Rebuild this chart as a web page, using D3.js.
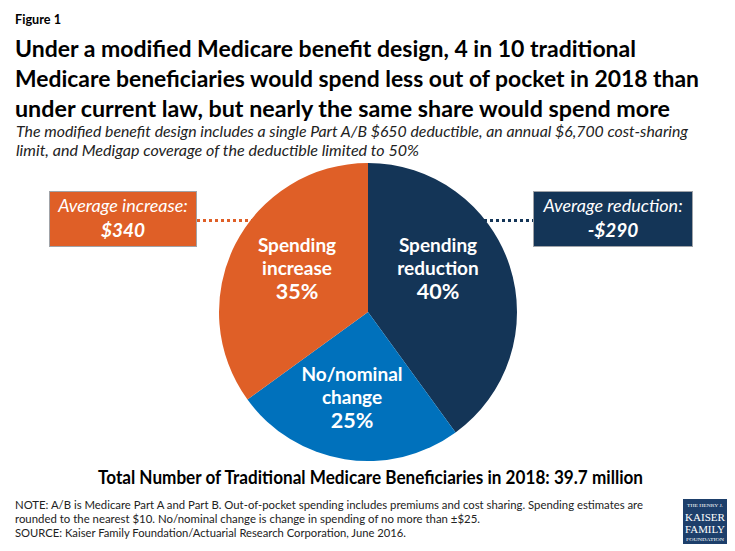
<!DOCTYPE html>
<html>
<head>
<meta charset="utf-8">
<script src="https://cdn.jsdelivr.net/npm/d3@7"></script>
<style>
html, body { margin: 0; padding: 0; background: #fff; }
text { font-family: Lato, "Open Sans", sans-serif; }
</style>
</head>
<body>
<div id="svg"></div>
<script>
// data
var categories = ["Spending reduction", "No/nominal change", "Spending increase"];
var shares = [40, 25, 35];
var slice_labels = [["Spending", "reduction"], ["No/nominal", "change"], ["Spending", "increase"]];
var slice_colors = ["#143557", "#0071bc", "#df5f27"];
var callout_titles = ["Average reduction:", "Average increase:"];
var callout_values = ["-$290", "$340"];

var title_lines = [
    "Under a modified Medicare benefit design, 4 in 10 traditional",
    "Medicare beneficiaries would spend less out of pocket in 2018 than",
    "under current law, but nearly the same share would spend more"
];
var sub_lines = [
    "The modified benefit design includes a single Part A/B $650 deductible, an annual $6,700 cost-sharing",
    "limit, and Medigap coverage of the deductible limited to 50%"
];
var note_lines = [
    "NOTE: A/B is Medicare Part A and Part B. Out-of-pocket spending includes premiums and cost sharing. Spending estimates are",
    "rounded to the nearest $10. No/nominal change is change in spending of no more than \u00b1$25.",
    "SOURCE: Kaiser Family Foundation/Actuarial Research Corporation, June 2016."
];
var total_label = "Total Number of Traditional Medicare Beneficiaries in 2018: 39.7 million";

var svg = d3.select("#svg").append("svg")
    .attr("width", 735)
    .attr("height", 551)
    .style("display", "block");

// puts lines of text, squeezed to the measured widths of the reference
function text_lines(lines, x, ys, widths, size, weight, style, fill) {
    svg.append("g").selectAll("text")
        .data(lines)
        .enter().append("text")
        .attr("x", x)
        .attr("y", function(d, i) { return ys[i]; })
        .attr("textLength", function(d, i) { return widths[i]; })
        .attr("lengthAdjust", "spacingAndGlyphs")
        .attr("font-size", size)
        .attr("font-weight", weight)
        .attr("font-style", style)
        .attr("fill", fill)
        .text(function(d) { return d; });
}

text_lines(["Figure 1"], 15, [24], [46], 12.5, 700, "normal", "#000");
text_lines(title_lines, 15, [57, 87, 116.5], [621, 684, 655], 23.5, 700, "normal", "#000");
text_lines(sub_lines, 16, [137, 156], [672, 403], 15, 400, "italic", "#222");
text_lines([total_label], 98, [484], [545], 18, 700, "normal", "#000");
text_lines(note_lines, 15, [508.5, 522.5, 537], [628, 465, 391], 11.6, 400, "normal", "#222");

// connectors and boxes
var callouts = svg.append("g");

function callout(i, x0, x1, line_x0, line_x1, color) {
    callouts.append("line")
        .attr("x1", line_x0)
        .attr("x2", line_x1)
        .attr("y1", 220.5)
        .attr("y2", 220.5)
        .attr("stroke", color)
        .attr("stroke-width", 3)
        .attr("stroke-dasharray", "3 3");
    callouts.append("rect")
        .attr("x", x0)
        .attr("y", 191.5)
        .attr("width", x1 - x0)
        .attr("height", 55)
        .attr("fill", color)
        .attr("stroke", "#a0a3a8")
        .attr("stroke-width", 1);
    callouts.append("text")
        .attr("x", (x0 + x1) / 2)
        .attr("y", 212)
        .attr("text-anchor", "middle")
        .attr("font-size", 18)
        .attr("font-style", "italic")
        .attr("fill", "#fff")
        .text(callout_titles[i]);
    callouts.append("text")
        .attr("x", (x0 + x1) / 2)
        .attr("y", 237)
        .attr("text-anchor", "middle")
        .attr("font-size", 19)
        .attr("font-weight", 700)
        .attr("font-style", "italic")
        .attr("fill", "#fff")
        .text(callout_values[i]);
}

callout(0, 533.5, 692.5, 484, 533, slice_colors[0]);
callout(1, 49.5, 196.5, 197, 252, slice_colors[2]);

// pie
var cx = 368, cy = 312, radius = 149;

var pie = d3.pie().sort(null);
var arc = d3.arc().innerRadius(0).outerRadius(radius);

var pie_g = svg.append("g")
    .attr("transform", "translate(" + cx + "," + cy + ")");

pie_g.selectAll("path")
    .data(pie(shares))
    .enter().append("path")
    .attr("d", arc)
    .attr("fill", function(d, i) { return slice_colors[i]; });

// slice labels, offsets from the pie centre
var label_pos = [[70, -60], [-16, 69], [-71, -60]];

var labels = pie_g.selectAll("text.slice")
    .data(shares)
    .enter().append("text")
    .attr("class", "slice")
    .attr("text-anchor", "middle")
    .attr("fill", "#fff")
    .attr("font-weight", 700)
    .attr("transform", function(d, i) {
        return "translate(" + label_pos[i][0] + "," + label_pos[i][1] + ")";
    });

labels.each(function(d, i) {
    var t = d3.select(this);
    t.append("tspan").attr("x", 0).attr("y", 0).attr("font-size", 19).text(slice_labels[i][0]);
    t.append("tspan").attr("x", 0).attr("y", 23).attr("font-size", 19).text(slice_labels[i][1]);
    t.append("tspan").attr("x", 0).attr("y", 47).attr("font-size", 21.5).text(d + "%");
});

// logo
var logo = svg.append("g");
logo.append("rect")
    .attr("x", 683)
    .attr("y", 499)
    .attr("width", 44)
    .attr("height", 45)
    .attr("fill", "#1d3f6b");

var logo_words = ["THE HENRY J.", "KAISER", "FAMILY", "FOUNDATION"];
var logo_sizes = [4.5, 11, 11, 4.5];
var logo_y = [507, 521, 533, 541];
var logo_w = [36, 40, 40, 38];

logo.selectAll("text")
    .data(logo_words)
    .enter().append("text")
    .attr("x", function(d, i) { return 705 - logo_w[i] / 2; })
    .attr("y", function(d, i) { return logo_y[i]; })
    .attr("textLength", function(d, i) { return logo_w[i]; })
    .attr("lengthAdjust", "spacingAndGlyphs")
    .attr("fill", "#fff")
    .attr("font-size", function(d, i) { return logo_sizes[i]; })
    .style("font-family", "'Liberation Serif', serif")
    .text(function(d) { return d; });
</script>
</body>
</html>
